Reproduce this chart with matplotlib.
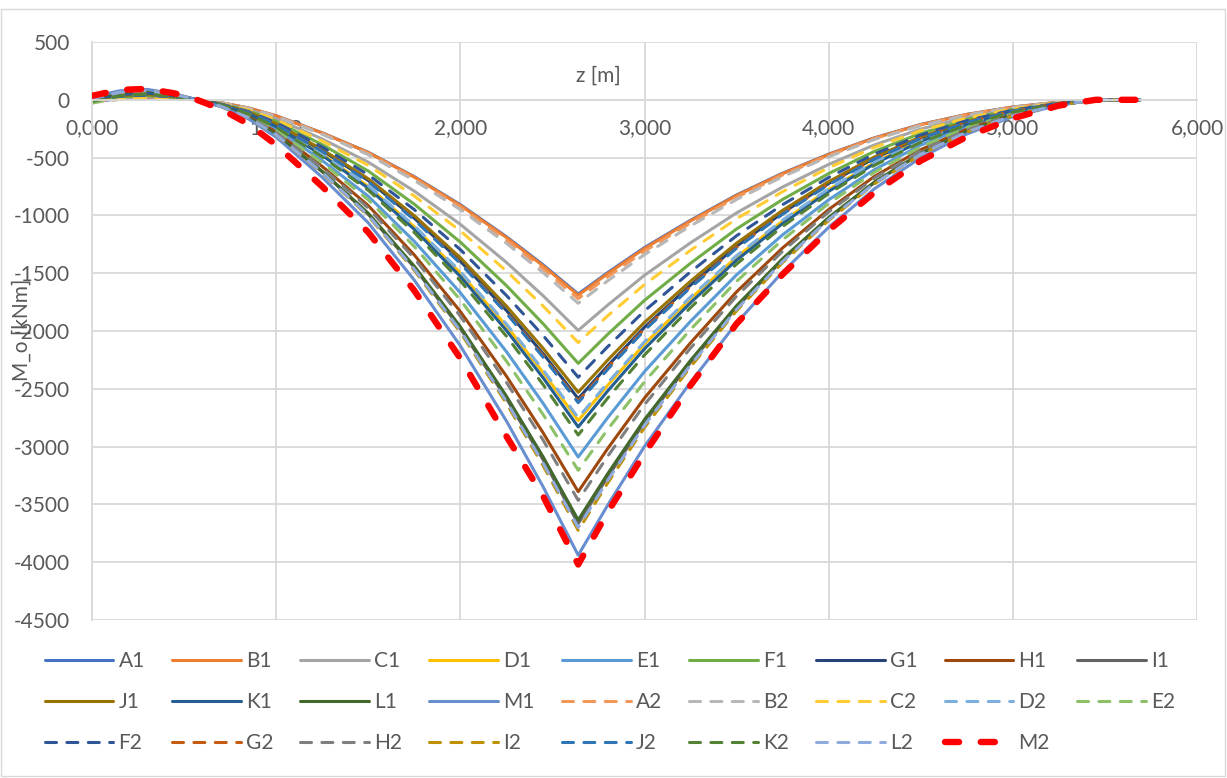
import matplotlib
matplotlib.use('Agg')
import matplotlib.pyplot as plt
from matplotlib.patches import Rectangle

plt.rcParams['font.family'] = ['Lato', 'DejaVu Sans']
plt.rcParams['axes.unicode_minus'] = False

# z positions [m]
z = [0.0, 0.15, 0.3, 0.45, 0.57, 0.7, 0.85, 1.0, 1.25, 1.5, 1.75, 2.0, 2.25, 2.45, 2.64,
     2.8, 3.0, 3.25, 3.5, 3.75, 4.0, 4.25, 4.5, 4.75, 5.0, 5.25, 5.45, 5.69]

# moments M_o [kNm]
A1 = [-15, 8, 18, 10, 0, -25, -71, -138, -286, -454, -665, -907, -1184, -1428, -1680, -1495, -1278, -1042, -823, -635, -470, -328, -213, -126, -62, -20, 0, 0]
B1 = [-10, 10, 20, 12, 0, -25, -71, -139, -287, -456, -669, -913, -1191, -1437, -1690, -1504, -1286, -1048, -828, -639, -473, -330, -215, -127, -63, -20, 0, 0]
C1 = [-10, 15, 25, 15, 0, -30, -84, -164, -339, -539, -790, -1077, -1406, -1696, -1995, -1776, -1518, -1237, -978, -754, -559, -389, -253, -150, -74, -24, 0, 0]
D1 = [0, 40, 55, 30, 0, -42, -117, -228, -472, -749, -1099, -1499, -1956, -2359, -2775, -2470, -2112, -1721, -1360, -1049, -777, -541, -352, -208, -103, -33, 0, 0]
E1 = [5, 50, 65, 36, 0, -46, -130, -253, -525, -834, -1224, -1669, -2178, -2627, -3090, -2750, -2351, -1916, -1514, -1168, -865, -603, -392, -232, -114, -37, 0, 0]
F1 = [-5, 25, 35, 20, 0, -34, -96, -187, -388, -616, -903, -1231, -1607, -1938, -2280, -2029, -1735, -1414, -1117, -862, -638, -445, -290, -171, -84, -27, 0, 0]
G1 = [10, 40, 50, 28, 0, -39, -109, -212, -439, -698, -1024, -1396, -1822, -2197, -2585, -2301, -1967, -1603, -1267, -977, -724, -504, -328, -194, -96, -31, 0, 0]
H1 = [10, 60, 75, 42, 0, -51, -142, -278, -576, -915, -1342, -1831, -2390, -2882, -3390, -3017, -2580, -2102, -1661, -1281, -949, -661, -431, -254, -125, -41, 0, 0]
I1 = [15, 68, 84, 47, 0, -55, -154, -301, -623, -990, -1451, -1979, -2584, -3115, -3665, -3262, -2789, -2272, -1796, -1385, -1026, -715, -465, -275, -136, -44, 0, 0]
J1 = [5, 35, 45, 25, 0, -38, -106, -207, -430, -683, -1002, -1366, -1784, -2151, -2530, -2252, -1925, -1569, -1240, -956, -708, -493, -321, -190, -94, -30, 0, 0]
K1 = [5, 45, 58, 32, 0, -42, -119, -232, -481, -764, -1121, -1528, -1995, -2406, -2830, -2519, -2154, -1755, -1387, -1070, -792, -552, -359, -212, -105, -34, 0, 0]
L1 = [15, 65, 82, 46, 0, -55, -153, -298, -618, -981, -1439, -1963, -2563, -3090, -3635, -3235, -2766, -2254, -1781, -1374, -1018, -709, -462, -273, -134, -44, 0, 0]
M1 = [25, 78, 90, 52, 0, -59, -165, -323, -670, -1064, -1560, -2128, -2778, -3349, -3940, -3507, -2998, -2443, -1931, -1489, -1103, -768, -500, -296, -146, -47, 0, 0]
A2 = [-20, 5, 15, 8, 0, -26, -72, -141, -292, -464, -681, -929, -1213, -1462, -1720, -1531, -1309, -1066, -843, -650, -482, -335, -218, -129, -64, -21, 0, 0]
B2 = [-25, 3, 14, 8, 0, -26, -74, -144, -299, -475, -697, -950, -1241, -1496, -1760, -1566, -1339, -1091, -862, -665, -493, -343, -224, -132, -65, -21, 0, 0]
C2 = [-20, 8, 20, 12, 0, -32, -88, -172, -357, -567, -832, -1134, -1481, -1785, -2100, -1869, -1598, -1302, -1029, -794, -588, -410, -267, -158, -78, -25, 0, 0]
D2 = [-10, 30, 45, 25, 0, -41, -116, -226, -468, -743, -1089, -1485, -1939, -2338, -2750, -2448, -2093, -1705, -1348, -1040, -770, -536, -349, -206, -102, -33, 0, 0]
E2 = [-30, 30, 48, 28, 0, -48, -135, -263, -545, -865, -1269, -1731, -2260, -2724, -3205, -2852, -2439, -1987, -1570, -1211, -897, -625, -407, -240, -119, -38, 0, 0]
F2 = [0, 30, 40, 22, 0, -36, -101, -197, -408, -648, -950, -1296, -1692, -2040, -2400, -2136, -1826, -1488, -1176, -907, -672, -468, -305, -180, -89, -29, 0, 0]
G2 = [5, 38, 48, 27, 0, -39, -109, -214, -443, -703, -1032, -1407, -1837, -2214, -2605, -2318, -1982, -1615, -1276, -985, -729, -508, -331, -195, -96, -31, 0, 0]
H2 = [5, 55, 72, 40, 0, -52, -146, -284, -589, -936, -1372, -1871, -2443, -2945, -3465, -3084, -2637, -2148, -1698, -1310, -970, -676, -440, -260, -128, -42, 0, 0]
I2 = [10, 62, 80, 45, 0, -56, -156, -305, -633, -1006, -1475, -2012, -2626, -3166, -3725, -3315, -2835, -2310, -1825, -1408, -1043, -726, -473, -279, -138, -45, 0, 0]
J2 = [0, 35, 45, 25, 0, -39, -110, -215, -445, -707, -1038, -1415, -1847, -2227, -2620, -2332, -1994, -1624, -1284, -990, -734, -511, -333, -197, -97, -31, 0, 0]
K2 = [-15, 35, 50, 28, 0, -44, -122, -238, -493, -783, -1148, -1566, -2045, -2465, -2900, -2581, -2207, -1798, -1421, -1096, -812, -566, -368, -218, -107, -35, 0, 0]
L2 = [10, 65, 82, 46, 0, -56, -155, -303, -629, -999, -1465, -1998, -2609, -3145, -3700, -3293, -2816, -2294, -1813, -1399, -1036, -722, -470, -278, -137, -44, 0, 0]
M2 = [35, 85, 95, 55, 0, -80, -210, -390, -750, -1146, -1650, -2237, -2910, -3430, -4020, -3566, -3060, -2470, -1937, -1510, -1130, -800, -527, -320, -160, -50, 0, 0]

names = ['A1', 'B1', 'C1', 'D1', 'E1', 'F1', 'G1', 'H1', 'I1', 'J1', 'K1', 'L1', 'M1',
         'A2', 'B2', 'C2', 'D2', 'E2', 'F2', 'G2', 'H2', 'I2', 'J2', 'K2', 'L2', 'M2']
series = [A1, B1, C1, D1, E1, F1, G1, H1, I1, J1, K1, L1, M1,
          A2, B2, C2, D2, E2, F2, G2, H2, I2, J2, K2, L2, M2]
colors = ['#4472C4', '#ED7D31', '#A5A5A5', '#FFC000', '#5B9BD5', '#70AD47',
          '#264478', '#9E480E', '#636363', '#997300', '#255E91', '#43682B', '#698ED0',
          '#F1975A', '#B7B7B7', '#FFCD33', '#7CAFDD', '#8CC168',
          '#2F5597', '#C55A11', '#7F7F7F', '#BF9000', '#2E75B6', '#548235', '#8FAADC', '#FF0000']

fig = plt.figure(figsize=(12.27, 7.78), dpi=100)
ax = fig.add_axes([92/1227, 1-620/778, (1197-92)/1227, (620-42)/778])

lines = []
for i, (name, vals) in enumerate(zip(names, series)):
    if name == 'M2':
        ln, = ax.plot(z, vals, color=colors[i], lw=4.6, dashes=(2.2, 3.4),
                      dash_capstyle='round', label=name, zorder=3)
    elif name.endswith('2'):
        ln, = ax.plot(z, vals, color=colors[i], lw=2.2, dashes=(3.6, 3.4),
                      dash_capstyle='round', label=name, zorder=2)
    else:
        ln, = ax.plot(z, vals, color=colors[i], lw=2.2, solid_capstyle='round',
                      label=name, zorder=2)
    lines.append(ln)

ax.set_xlim(0, 6)
ax.set_ylim(-4500, 500)
ax.set_xticks(range(7))
ax.set_xticklabels(['%d,000' % i for i in range(7)])
ax.set_yticks(range(-4500, 501, 500))
ax.set_yticklabels([str(v) for v in range(-4500, 501, 500)])
ax.grid(True, color='#D9D9D9', lw=1.3)
ax.set_axisbelow(True)
for s in ['top', 'right']:
    ax.spines[s].set_visible(False)
ax.spines['bottom'].set_position(('data', 0))
ax.spines['bottom'].set_color('#D9D9D9')
ax.spines['bottom'].set_linewidth(1.3)
ax.spines['left'].set_color('#D9D9D9')
ax.spines['left'].set_linewidth(1.3)
ax.tick_params(axis='x', length=0, pad=13, labelsize=15, labelcolor='#595959')
ax.tick_params(axis='y', length=0, pad=16, labelsize=15, labelcolor='#595959')

ax.text(2.75, 210, 'z [m]', ha='center', va='center', fontsize=15, color='#595959')
fig.text(22/1227, 1-330/778, 'M_o [kNm]', rotation=90, ha='center', va='center',
         fontsize=15, color='#595959')

# legend laid out row-wise, 9 columns
order = []
for j in range(9):
    for r in range(3):
        k = r*9 + j
        if k < len(lines):
            order.append(k)
leg = fig.legend([lines[k] for k in order], [names[k] for k in order],
                 loc='center', bbox_to_anchor=(0.497, 1-702/778), ncol=9,
                 frameon=False, fontsize=15, handlelength=3.3, handletextpad=0.25,
                 columnspacing=1.3, labelspacing=1.0)
for t in leg.get_texts():
    t.set_color('#595959')

fig.patches.append(Rectangle((0.001, 0.002), 0.997, 1-9/778-0.002, transform=fig.transFigure,
                             fill=False, edgecolor='#D9D9D9', lw=1))

fig.savefig('out.png', dpi=100)
